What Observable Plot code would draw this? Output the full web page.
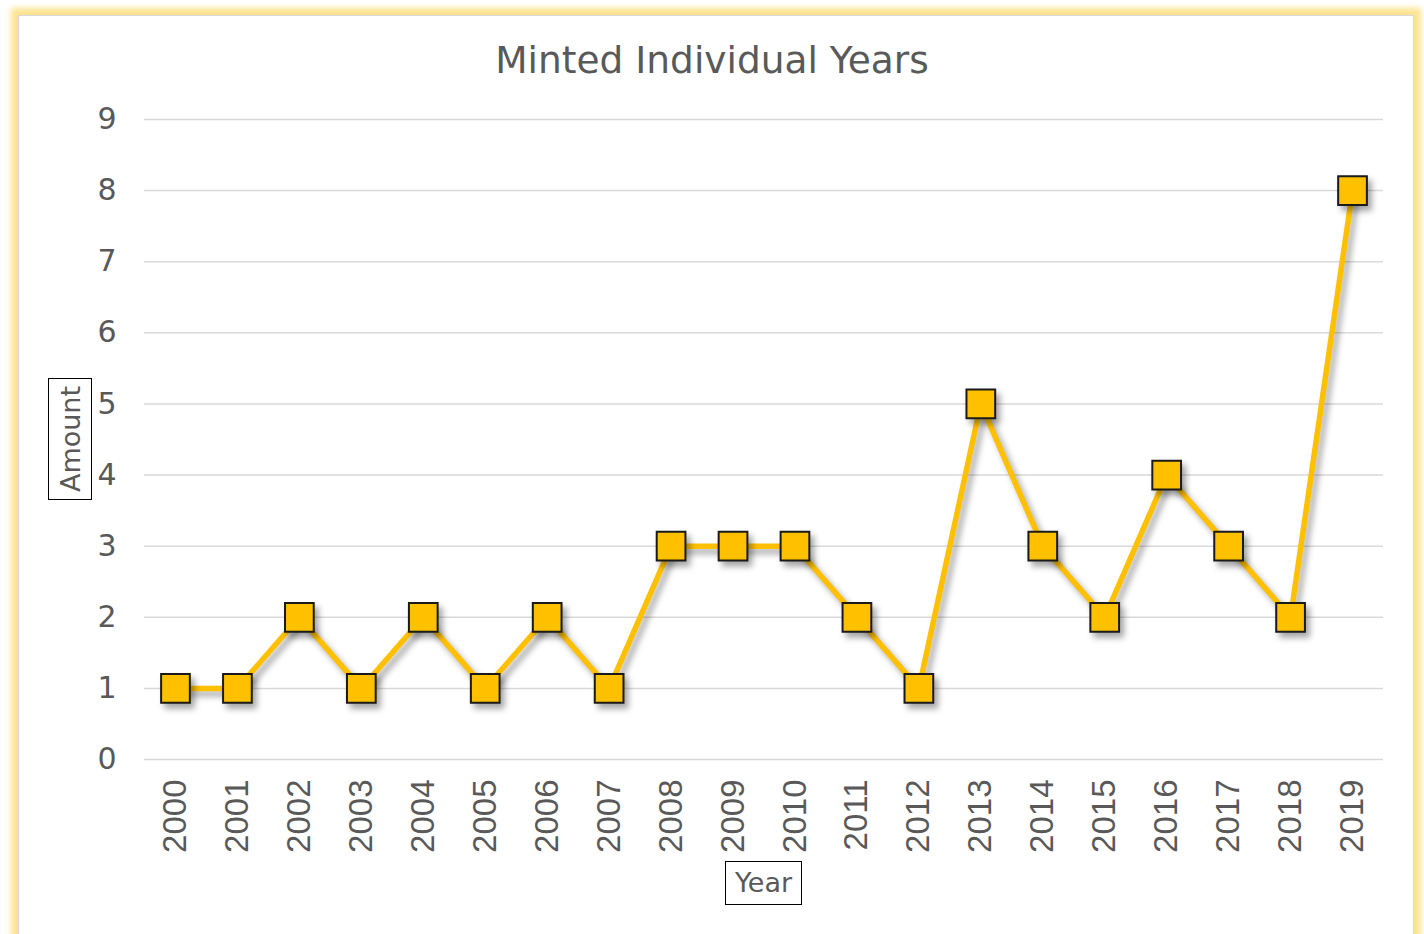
<!DOCTYPE html>
<html>
<head>
<meta charset="utf-8">
<script src="https://cdn.jsdelivr.net/npm/d3@7"></script>
<script src="https://cdn.jsdelivr.net/npm/@observablehq/plot@0.6"></script>
<style>
  html, body { margin: 0; padding: 0; background: #ffffff; width: 1424px; height: 934px; overflow: hidden; }
  #panel { position: absolute; left: 18px; top: 15px; width: 1394px; height: 940px; background: #fff;
           border: 1px solid #d9d9d9; box-shadow: 0 0 6px 7px #ffe38f; }
  #wrap { position: absolute; left: 0; top: 0; width: 1424px; height: 934px; }
  #title { height: 100px; box-sizing: border-box; padding-top: 38px; text-align: center;
           font-family: "DejaVu Sans", sans-serif; font-size: 37.5px; color: #595959; line-height: 44px; }
  .axtitle { position: absolute; border: 1.5px solid #000; background: #fff; color: #595959;
             font-family: "DejaVu Sans", sans-serif; font-size: 27px; line-height: 1; box-sizing: border-box; }
  #ylab { left: 48px; top: 378px; width: 44px; height: 122px; }
  #ylab span { position: absolute; left: 50%; top: 50%; transform: translate(-50%, -50%) rotate(-90deg); white-space: nowrap; }
  #xlab { left: 725px; top: 861px; width: 77px; height: 44px; text-align: center; padding-top: 7px; }
</style>
</head>
<body>
<div id="panel"></div>
<div id="wrap">
  <div id="title">Minted Individual Years</div>
  <div id="chart"></div>
</div>
<div id="ylab" class="axtitle"><span>Amount</span></div>
<div id="xlab" class="axtitle">Year</div>
<script>
const years = ["2000","2001","2002","2003","2004","2005","2006","2007","2008","2009",
               "2010","2011","2012","2013","2014","2015","2016","2017","2018","2019"];
const amounts = [1,1,2,1,2,1,2,1,3,3,3,2,1,5,3,2,4,3,2,8];
const yTicks = [0,1,2,3,4,5,6,7,8,9];

const data = years.map((y, i) => ({year: y, amount: amounts[i]}));

const chart = Plot.plot({
  width: 1424,
  height: 834,
  marginLeft: 144,
  marginRight: 41,
  marginTop: 19,
  marginBottom: 175,
  style: {background: "transparent", color: "#595959"},
  x: {type: "point", domain: years, padding: 0.5, round: false, label: null},
  y: {domain: [0, 9], label: null},
  marks: [
    Plot.ruleY(yTicks, {stroke: "#d9d9d9", strokeWidth: 1.5}),
    Plot.axisY({ticks: yTicks, tickSize: 0, tickPadding: 28, fontSize: 30, label: null,
                fontFamily: "DejaVu Sans, sans-serif", fill: "#595959"}),
    Plot.axisX({tickSize: 0, tickRotate: -90, tickPadding: 20, fontSize: 33, label: null,
                fontFamily: "Liberation Sans, Arial, sans-serif", fill: "#595959"}),
    Plot.line(data, {x: "year", y: "amount", stroke: "#ffc000", strokeWidth: 5.5}),
    Plot.dot(data, {x: "year", y: "amount", symbol: "square", r: 16.2, fill: "#ffc000",
                    stroke: "#1a1a1a", strokeWidth: 2})
  ]
});
document.getElementById("chart").appendChild(chart);
d3.select(chart).selectAll("g[aria-label='line'] path, g[aria-label='dot'] path")
  .style("filter", "drop-shadow(4px 5px 3px rgba(0,0,0,0.35))");
</script>
</body>
</html>
